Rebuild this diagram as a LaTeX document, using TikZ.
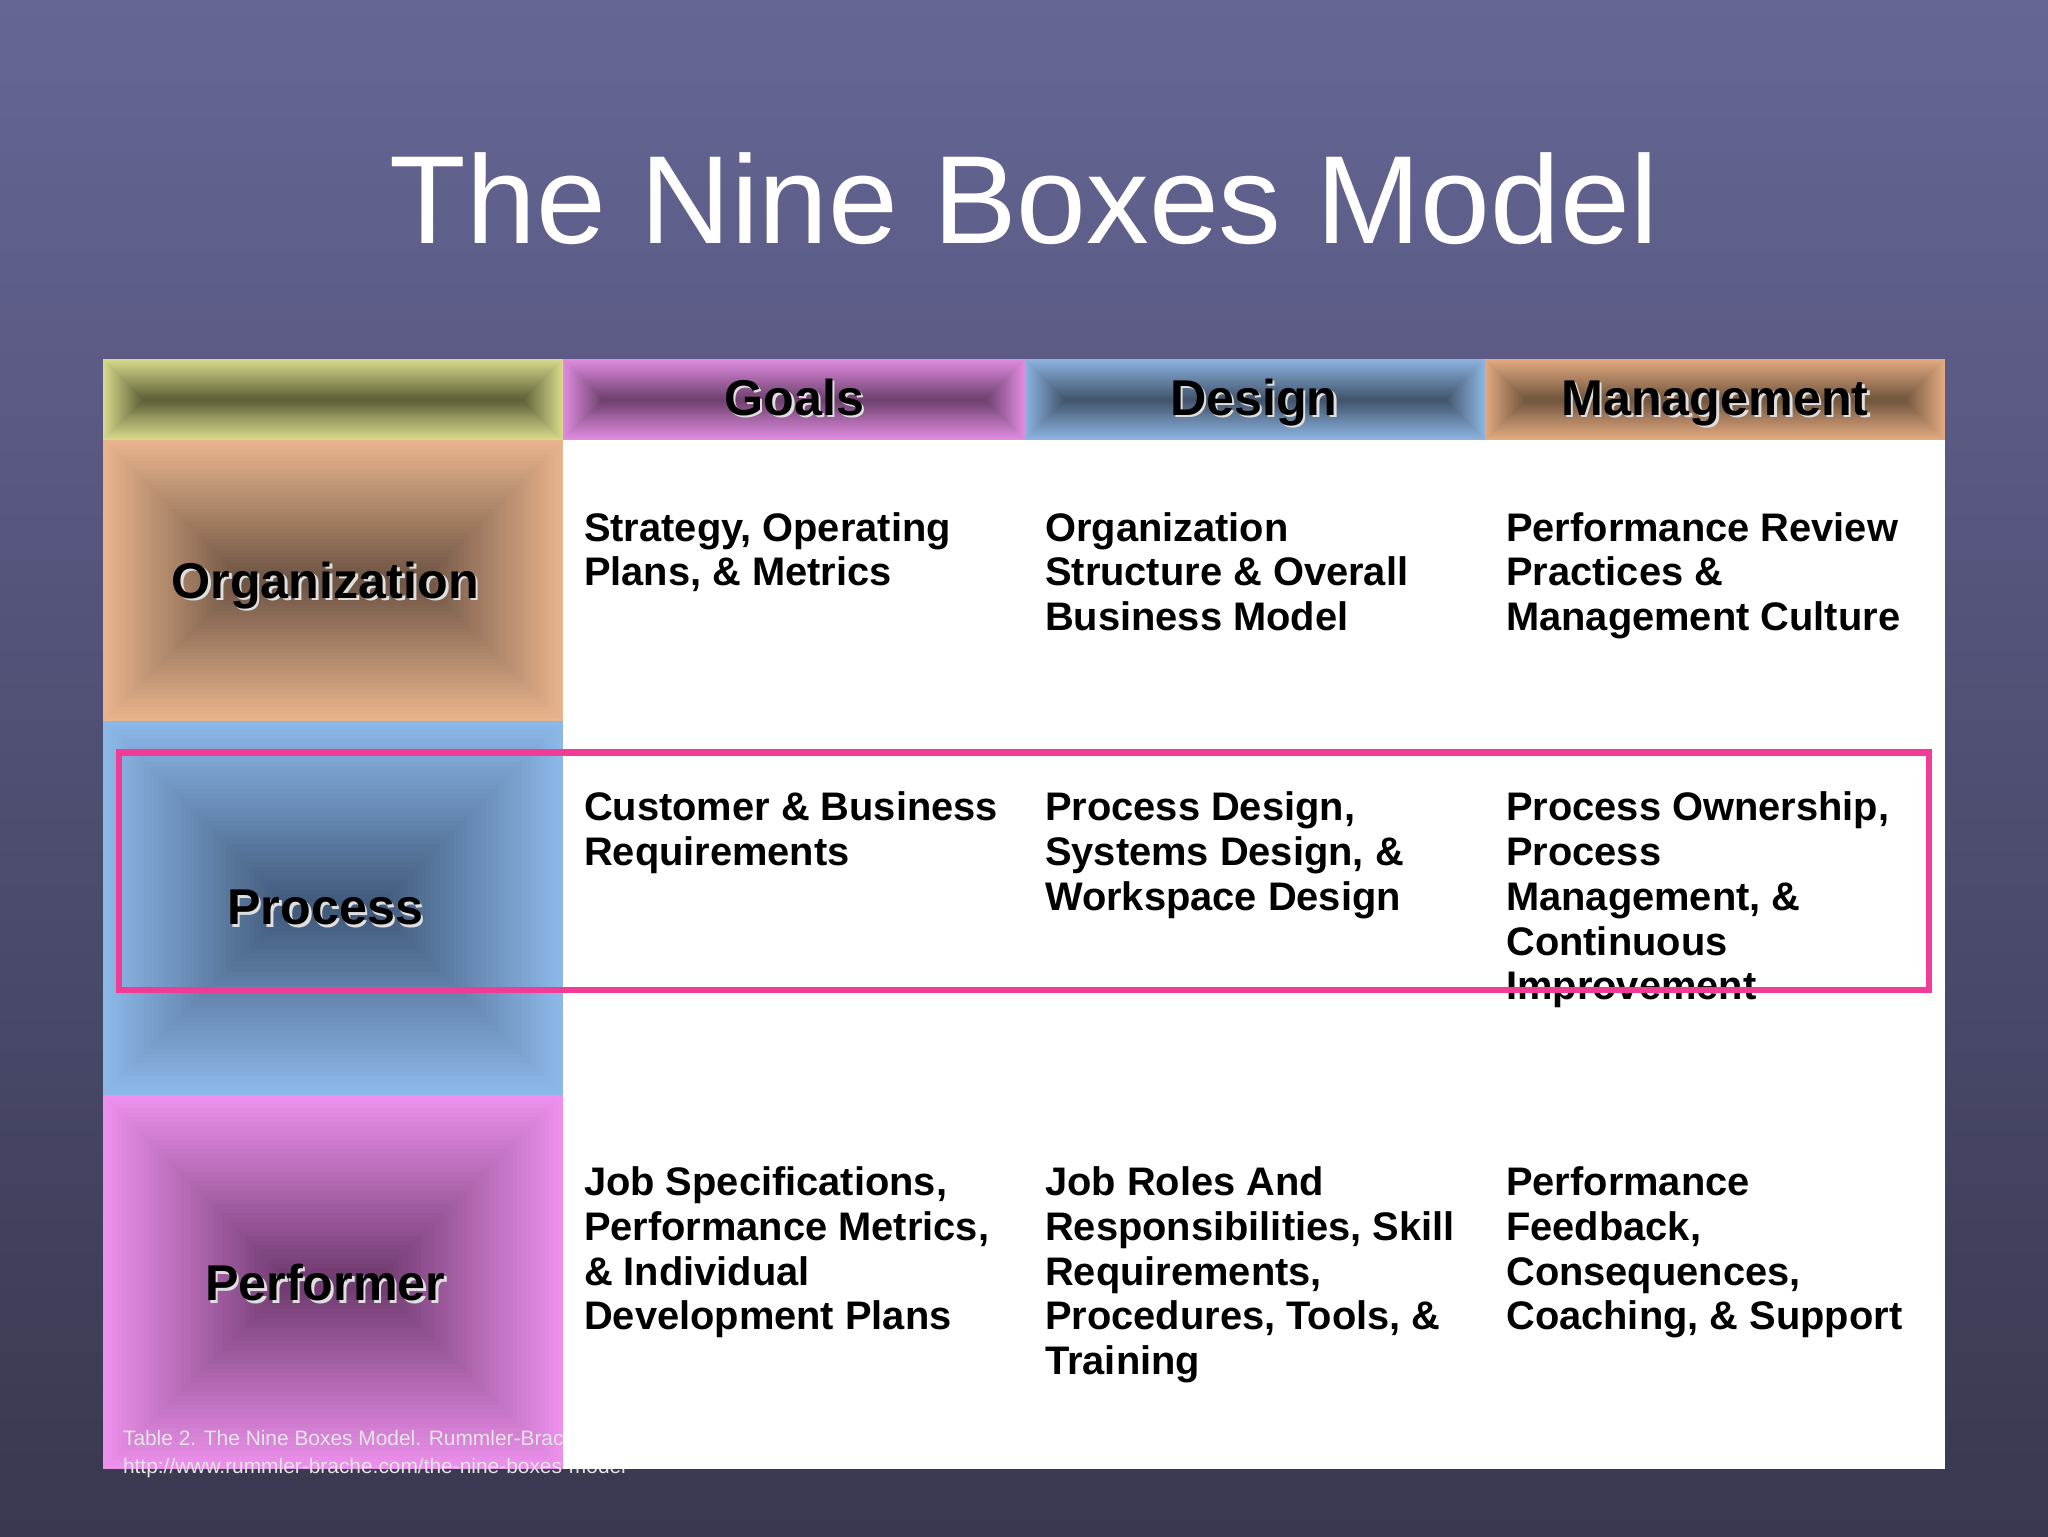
\documentclass[tikz,border=0pt]{standalone}
\usepackage{fontspec}
\setmainfont{Liberation Sans}
\begin{document}
\begin{tikzpicture}[x=1pt,y=-1pt,
  cell/.style={anchor=north west,align=left,font=\fontsize{30.5}{34.3}\selectfont\bfseries,text=black,inner sep=0pt},
  lab/.style={font=\fontsize{38.5}{40}\selectfont\bfseries,inner sep=0pt,anchor=base},
  shad/.style={lab,text=white!75!gray}]
\definecolor{bgtop}{HTML}{666696}\definecolor{bgbot}{HTML}{383850}
\shade[top color=bgtop,bottom color=bgbot] (0,0) rectangle (1568,1176);
\useasboundingbox (0,0) rectangle (1568,1176);
\node[text=white,font=\fontsize{96}{100}\selectfont] (title) at (784,152) {The Nine Boxes Model};
% bevel boxes with equal inset
\newcommand{\bevel}[6]{% x1 y1 x2 y2 outer inner
  \foreach \i in {0,...,39}{
    \pgfmathsetmacro{\p}{100-\i*2.5}
    \pgfmathsetmacro{\dd}{min(#3-#1,#4-#2)/2*\i/41}
    \fill[#5!\p!#6] ({#1+\dd},{#2+\dd}) rectangle ({#3-\dd},{#4-\dd});
  }}
\definecolor{yo}{HTML}{D6DA8A}\definecolor{yi}{HTML}{5E6038}
\definecolor{go}{HTML}{E08CE0}\definecolor{gi}{HTML}{6E406E}
\definecolor{do}{HTML}{8CB4E0}\definecolor{di}{HTML}{42546C}
\definecolor{mo}{HTML}{E2AA80}\definecolor{mi}{HTML}{72563E}
\definecolor{oo}{HTML}{E8B48C}\definecolor{oi}{HTML}{6E5444}
\definecolor{po}{HTML}{8CB8E8}\definecolor{pi}{HTML}{40587A}
\definecolor{fo}{HTML}{EC90EC}\definecolor{fi}{HTML}{6E3A6E}
\definecolor{hot}{HTML}{F03C96}
\bevel{79}{275}{431}{337}{yo}{yi}
\bevel{431}{275}{785}{337}{go}{gi}
\bevel{785}{275}{1137}{337}{do}{di}
\bevel{1137}{275}{1489}{337}{mo}{mi}
\bevel{79}{337}{431}{552}{oo}{oi}
\bevel{79}{552}{431}{838}{po}{pi}
\bevel{79}{838}{431}{1125}{fo}{fi}
% footnote
\node[anchor=north west,text=white!80!gray,font=\fontsize{16}{21}\selectfont,align=left,inner sep=0pt] (foot) at (94,1095) {Table 2. The Nine Boxes Model. Rummler-Brache\\http://www.rummler-brache.com/the-nine-boxes-model};
\fill[white] (431,337) rectangle (1489,1125);
% labels with shadow
\foreach \t/\x/\y/\n in {Goals/608/318/g,Design/960/318/d,Management/1313/318/m,Organization/249/458/o,Process/249/708/p,Performer/249/996/f}{
  \node[shad] at (\x+2,\y+2) {\t};
  \node[lab] (l\n) at (\x,\y) {\t};
}
\node[cell] (c11) at (447,392) {Strategy, Operating\\Plans, \& Metrics};
\node[cell] (c12) at (800,392) {Organization\\Structure \& Overall\\Business Model};
\node[cell] (c13) at (1153,392) {Performance Review\\Practices \&\\Management Culture};
\node[cell] (c21) at (447,606) {Customer \& Business\\Requirements};
\node[cell] (c22) at (800,606) {Process Design,\\Systems Design, \&\\Workspace Design};
\node[cell] (c23) at (1153,606) {Process Ownership,\\Process\\Management, \&\\Continuous\\Improvement};
\node[cell] (c31) at (447,893) {Job Specifications,\\Performance Metrics,\\\& Individual\\Development Plans};
\node[cell] (c32) at (800,893) {Job Roles And\\Responsibilities, Skill\\Requirements,\\Procedures, Tools, \&\\Training};
\node[cell] (c33) at (1153,893) {Performance\\Feedback,\\Consequences,\\Coaching, \& Support};
\draw[hot,line width=5] (91,576) rectangle (1477,758);
\end{tikzpicture}
\end{document}
